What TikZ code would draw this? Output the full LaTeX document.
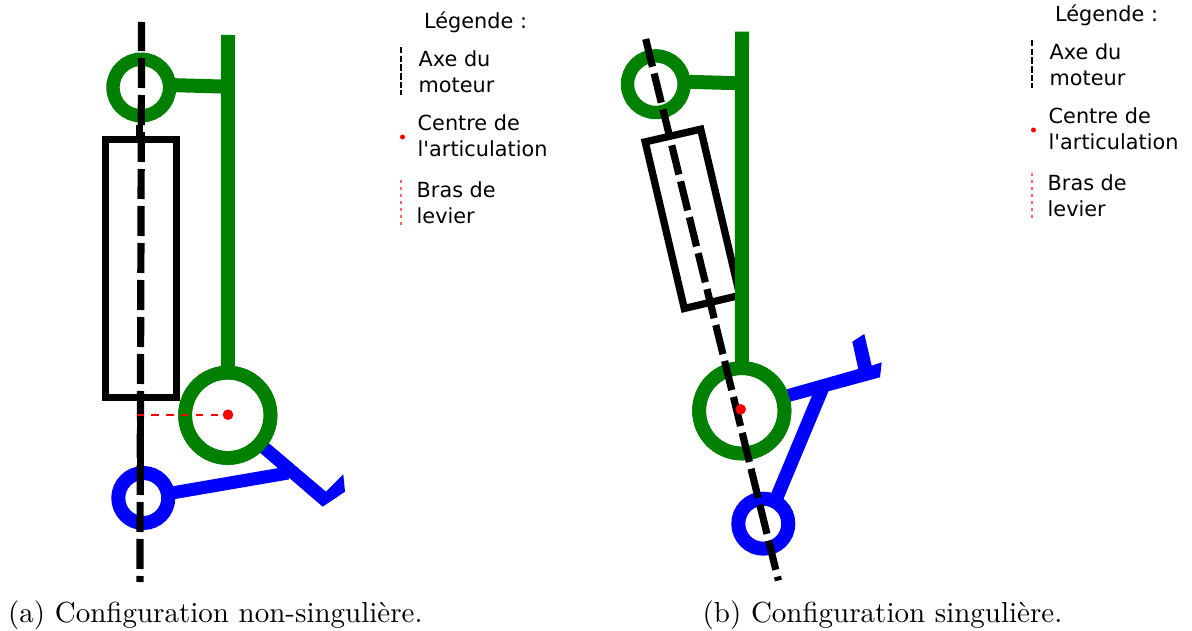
\documentclass[tikz,border=0pt]{standalone}
\usepackage{fontspec}
\newfontfamily\legendefont{DejaVu Sans}
\newfontfamily\titrefont{lmroman10-regular.otf}
\definecolor{vert}{RGB}{0,128,0}
\tikzset{
  ringvert/.style = {circle, draw=vert, line width=13.7pt, inner sep=0pt, outer sep=0pt},
  ringbleu/.style = {circle, draw=blue, line width=14pt, minimum size=50pt, inner sep=0pt, outer sep=0pt},
  barvert/.style = {draw=vert, line width=14pt},
  barbleu/.style = {draw=blue, line width=13pt},
  moteur/.style = {draw=black, line width=7.3pt, miter limit=10},
  axe/.style = {draw=black, line width=7.2pt, dash pattern=on 30pt off 7pt, dash phase=1pt},
  bras/.style = {draw=red, line width=2pt, dash pattern=on 7.4pt off 7.4pt},
  centre/.style = {circle, fill=red, inner sep=0pt, outer sep=0pt, minimum size=10.6pt},
  legende/.style = {font=\legendefont\fontsize{20.8}{26}\selectfont, align=left, anchor=west, inner sep=0pt},
  legtitre/.style = {font=\legendefont\fontsize{20.8}{26}\selectfont, anchor=base west, inner sep=0pt},
  legcentre/.style = {circle, fill=red, inner sep=0pt, outer sep=0pt, minimum size=5pt},
  legende axe/.style = {draw=black, line width=1.5pt, dash pattern=on 6.5pt off 2.2pt},
  legende bras/.style = {draw=red!60, line width=1.5pt, dash pattern=on 3pt off 4pt},
  titre/.style = {font=\titrefont\fontsize{29}{32}\selectfont, anchor=base west, inner sep=0pt}
}
\begin{document}
\begin{tikzpicture}[x=1pt, y=-1pt]
  \useasboundingbox (0,0) rectangle (1192,631);

  % configuration (a)
  \draw[moteur] (105.7,139.3) rectangle (176.4,397.7);
  \node (ringhautA) [ringvert, line width=13.4pt, minimum size=56.6pt] at (141.3,87.5) {};
  \node (ringbasA) [ringvert, minimum size=85.4pt] at (227.8,415.3) {};
  \node (ringbleuA) [ringbleu] at (143.3,498) {};
  \coordinate (mastA) at (228,35);
  \coordinate (jointvertA) at (228,86.7);
  \coordinate (jointbleuA) at (288,473);
  \coordinate (axehautA) at (141.6,22);
  \coordinate (axebasA) at (139.9,582);
  \draw[barvert] (mastA) -- (ringbasA.north);
  \draw[barvert] (ringhautA.5) -- (jointvertA);
  \draw[barbleu] (ringbleuA.10) -- (jointbleuA);
  \fill[blue] (269,443.3) -- (326,491.7) -- (343.3,474.3) -- (345,491.7)
    -- (322.7,506.7) -- (260,452.7) -- cycle;
  \node[ringvert, minimum size=85.4pt] at (ringbasA) {};
  \draw[axe] (axehautA) -- (axebasA);
  \draw[draw=black, line width=7pt] (139.6,125) -- (139.6,137);
  \draw[draw=black, line width=7pt] (140.3,391) -- (140.3,494);
  \node (centreA) [centre] at (228,414.7) {};
  \coordinate (brasA) at (136.5,414.7);
  \draw[bras] (brasA) -- (centreA);

  % configuration (b)
  \draw[moteur] (645.2,141.9) -- (700.7,129.2) -- (739.8,295.4) -- (684.3,308.5) -- cycle;
  \node (ringhautB) [ringvert, line width=13.4pt, minimum size=56.6pt] at (655.8,84.2) {};
  \node (ringbasB) [ringvert, minimum size=85.4pt] at (741.8,410.8) {};
  \node (ringbleuB) [ringbleu] at (763.3,523.7) {};
  \coordinate (mastB) at (742,31.7);
  \coordinate (jointvertB) at (742,83.3);
  \coordinate (jointbleuB) at (822.2,388.7);
  \coordinate (axehautB) at (645.7,39);
  \coordinate (axebasB) at (778.4,580.5);
  \draw[barvert] (mastB) -- (ringbasB.north);
  \draw[barvert] (ringhautB.5) -- (jointvertB);
  \draw[barbleu, line width=13.5pt] (ringbleuB.62) -- (jointbleuB);
  \fill[blue] (786.7,389.3) -- (858.3,369) -- (852.3,341.7) -- (864.3,334) -- (871.7,365.7)
    -- (881.7,362.3) -- (880,377.3) -- (790,401.7) -- cycle;
  \node[ringvert, minimum size=85.4pt] at (ringbasB) {};
  \draw[axe, dash phase=1.5pt] (axehautB) -- (axebasB);
  \node (centreB) [centre] at (740.7,409.3) {};

  % legendes
  \foreach \n/\dx/\dy in {A/0/0, B/631/-7}{
    \begin{scope}[shift={(\dx,\dy)}]
      \node (titre\n) [legtitre] at (424,29) {Légende :};
      \node (legaxe\n) [legende] at (418.5,72) {Axe du\\moteur};
      \node (legcentre\n) [legende] at (417.5,136) {Centre de\\l\symbol{39}articulation};
      \node (legbras\n) [legende] at (416.5,203) {Bras de\\levier};
      \coordinate (axe1\n) at (401,47);
      \coordinate (axe2\n) at (401,95);
      \coordinate (bras1\n) at (401,180);
      \coordinate (bras2\n) at (401,225);
      \draw[legende axe] (axe1\n) -- (axe2\n);
      \node (point\n) [legcentre] at (402.5,137) {};
      \draw[legende bras] (bras1\n) -- (bras2\n);
    \end{scope}
  }

  \node (titreA) [titre] at (8,622.5) {(a) Configuration non-singulière.};
  \node (titreB) [titre] at (702.5,622.5) {(b) Configuration singulière.};
\end{tikzpicture}
\end{document}
